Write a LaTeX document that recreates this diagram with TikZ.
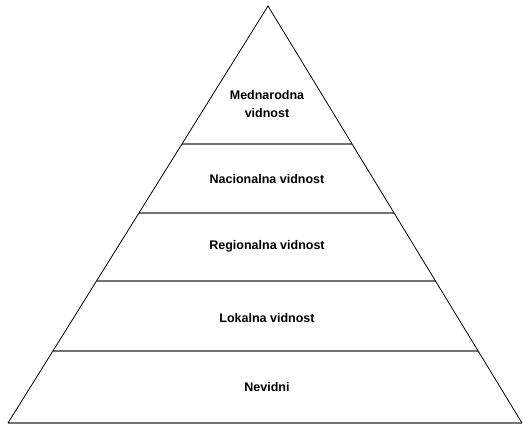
\documentclass[tikz,border=0pt]{standalone}
\usepackage{fontspec}
\setmainfont{Liberation Sans}
\usetikzlibrary{calc}
\begin{document}
\begin{tikzpicture}[x=1pt,y=-1pt,
  side/.style={draw=black,line width=0.8pt},
  level/.style={draw=black!55,line width=1.1pt},
  tier/.style={font=\bfseries\fontsize{12.5}{18.5}\selectfont,align=center,inner sep=0pt}]
  \useasboundingbox (0,0) rectangle (523,425);
  % corners of the pyramid
  \coordinate (A) at (268,6);
  \coordinate (L) at (8,423);
  \coordinate (R) at (522,423);
  % tier boundaries, including the base
  \foreach \t/\n in {0.331/a,0.4964/b,0.6595/c,0.8273/d,1/e}{
    \coordinate (l\n) at ($(A)!\t!(L)$);
    \coordinate (r\n) at ($(A)!\t!(R)$);
    \draw[level] (l\n) -- (r\n);
  }
  % slanted sides
  \draw[side] (L) -- (A) -- (R);
  % labels
  \node[tier] (t1) at (267,104) {Mednarodna\\vidnost};
  \node[tier] (t2) at (267,179) {Nacionalna vidnost};
  \node[tier] (t3) at (267,246) {Regionalna vidnost};
  \node[tier] (t4) at (267,318) {Lokalna vidnost};
  \node[tier] (t5) at (267,387) {Nevidni};
\end{tikzpicture}
\end{document}
